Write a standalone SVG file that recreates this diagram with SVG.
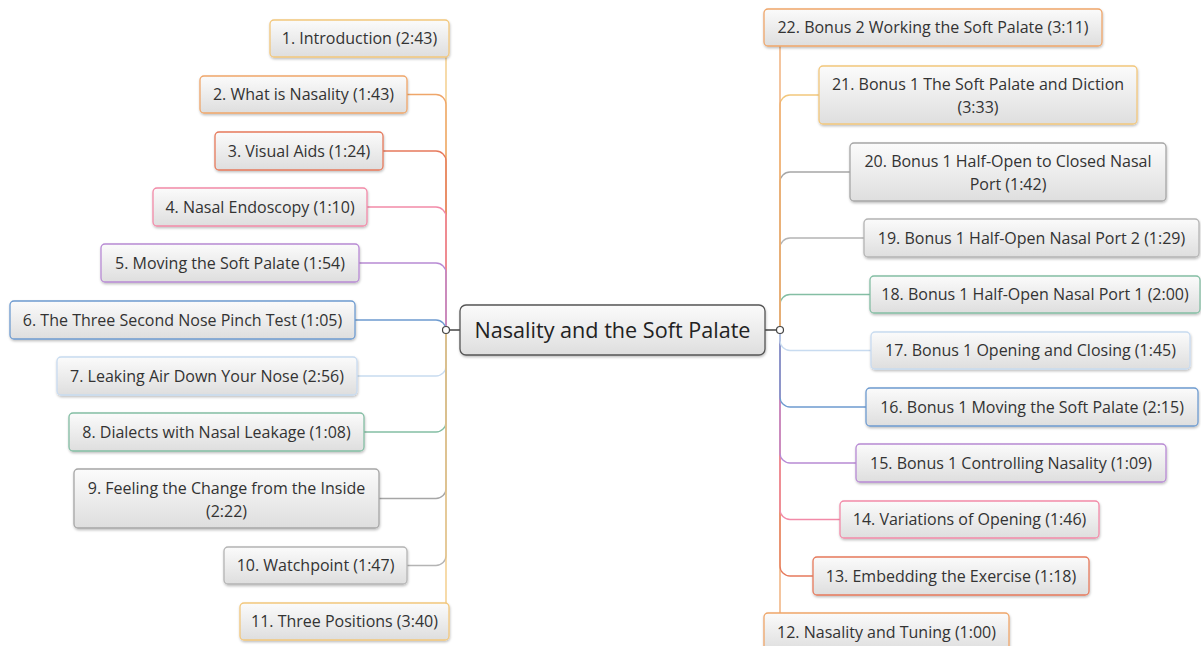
<svg xmlns="http://www.w3.org/2000/svg" width="1201" height="646" viewBox="0 0 1201 646">
<defs>
<linearGradient id="g" x1="0" y1="0" x2="0" y2="1"><stop offset="0" stop-color="#fbfbfb"/><stop offset="1" stop-color="#dedede"/></linearGradient>
<filter id="sh" x="-5%" y="-20%" width="110%" height="150%"><feDropShadow dx="0.5" dy="1.5" stdDeviation="1.2" flood-color="#000" flood-opacity="0.25"/></filter>
</defs>
<style>
.b{fill:url(#g);stroke-width:1.3;filter:url(#sh)}
.t{font-family:"Open Sans","Noto Sans",sans-serif;font-size:16px;fill:#333;text-anchor:middle}
.c{fill:none;stroke-width:1.3}
.c1{stroke:#f2c77c}.c2{stroke:#efa66a}.c3{stroke:#e67a5c}.c4{stroke:#f28aa8}.c5{stroke:#b88ad4}.c6{stroke:#6e9bd0}.c7{stroke:#c8dbf0}.c8{stroke:#84bea4}.c9{stroke:#a6a6a6}.c10{stroke:#b4b4b4}
</style>
<rect width="1201" height="646" fill="#fff"/>
<g id="connectors">
<path class="c c1" d="M446 57 V330"/>
<path class="c c2" d="M407 94.5 H436 A10 10 0 0 1 446 104.5 V330"/>
<path class="c c3" d="M383 151 H436 A10 10 0 0 1 446 161 V330"/>
<path class="c c4" d="M367 207 H436 A10 10 0 0 1 446 217 V330"/>
<path class="c c5" d="M359 263 H436 A10 10 0 0 1 446 273 V330"/>
<path class="c c6" d="M355 320 H436 A10 10 0 0 1 446 330"/>
<path class="c c7" d="M357 376 H436 A10 10 0 0 0 446 366 V330"/>
<path class="c c8" d="M364 432 H436 A10 10 0 0 0 446 422 V330"/>
<path class="c c9" d="M379 498.5 H436 A10 10 0 0 0 446 488.5 V330"/>
<path class="c c10" d="M407 565.5 H436 A10 10 0 0 0 446 555.5 V330"/>
<path class="c c1" d="M446 603 V330"/>
<path class="c c2" d="M780 330 V613"/>
<path class="c c3" d="M780 330 V566 A10 10 0 0 0 790 576 H813"/>
<path class="c c4" d="M780 330 V509.5 A10 10 0 0 0 790 519.5 H840"/>
<path class="c c5" d="M780 330 V453 A10 10 0 0 0 790 463 H856"/>
<path class="c c6" d="M780 330 V397 A10 10 0 0 0 790 407 H866"/>
<path class="c c7" d="M780 330 V340.5 A10 10 0 0 0 790 350.5 H871"/>
<path class="c c8" d="M780 330 V304.5 A10 10 0 0 1 790 294.5 H870"/>
<path class="c c10" d="M780 330 V248 A10 10 0 0 1 790 238 H864"/>
<path class="c c9" d="M780 330 V182 A10 10 0 0 1 790 172 H850"/>
<path class="c c1" d="M780 330 V105 A10 10 0 0 1 790 95 H819"/>
<path class="c c2" d="M780 330 V46"/>
<line x1="449.5" y1="330" x2="460" y2="330" stroke="#444" stroke-width="1.5"/>
<line x1="765" y1="330" x2="776.5" y2="330" stroke="#444" stroke-width="1.5"/>
<circle cx="446" cy="330" r="3.5" fill="#fff" stroke="#444" stroke-width="1.2"/>
<circle cx="780" cy="330" r="3.5" fill="#fff" stroke="#444" stroke-width="1.2"/>
</g>
<g id="center">
<rect class="b" x="460" y="305" width="305" height="50" rx="6" stroke="#555" stroke-width="1.5"/>
<text x="612.5" y="337.5" style="font-family:'Open Sans','Noto Sans',sans-serif;font-size:21.6px;fill:#222;text-anchor:middle">Nasality and the Soft Palate</text>
</g>
<g id="n1"><rect class="b c1" x="270" y="20" width="179" height="37" rx="4"/><text class="t" x="359.5" y="44">1. Introduction (2:43)</text></g>
<g id="n2"><rect class="b c2" x="200" y="76" width="207" height="37" rx="4"/><text class="t" x="303.5" y="100">2. What is Nasality (1:43)</text></g>
<g id="n3"><rect class="b c3" x="215" y="132" width="168" height="38" rx="4"/><text class="t" x="299" y="156.5">3. Visual Aids (1:24)</text></g>
<g id="n4"><rect class="b c4" x="153" y="188" width="214" height="38" rx="4"/><text class="t" x="260" y="212.5">4. Nasal Endoscopy (1:10)</text></g>
<g id="n5"><rect class="b c5" x="101" y="244" width="258" height="38" rx="4"/><text class="t" x="230" y="268.5">5. Moving the Soft Palate (1:54)</text></g>
<g id="n6"><rect class="b c6" x="10" y="301" width="345" height="38" rx="4"/><text class="t" x="182.5" y="325.5">6. The Three Second Nose Pinch Test (1:05)</text></g>
<g id="n7"><rect class="b c7" x="57" y="357" width="300" height="38" rx="4"/><text class="t" x="207" y="381.5">7. Leaking Air Down Your Nose (2:56)</text></g>
<g id="n8"><rect class="b c8" x="69" y="413" width="295" height="38" rx="4"/><text class="t" x="216.5" y="437.5">8. Dialects with Nasal Leakage (1:08)</text></g>
<g id="n9"><rect class="b c9" x="74" y="469" width="305" height="59" rx="4"/><text class="t" x="226.5" y="493.5">9. Feeling the Change from the Inside</text><text class="t" x="226.5" y="516.5">(2:22)</text></g>
<g id="n10"><rect class="b c10" x="224" y="547" width="183" height="37" rx="4"/><text class="t" x="315.5" y="571">10. Watchpoint (1:47)</text></g>
<g id="n11"><rect class="b c1" x="240" y="603" width="209" height="37" rx="4"/><text class="t" x="344.5" y="627">11. Three Positions (3:40)</text></g>
<g id="n22"><rect class="b c2" x="764" y="9" width="338" height="37" rx="4"/><text class="t" x="933" y="33">22. Bonus 2 Working the Soft Palate (3:11)</text></g>
<g id="n21"><rect class="b c1" x="819" y="66" width="318" height="58" rx="4"/><text class="t" x="978" y="90">21. Bonus 1 The Soft Palate and Diction</text><text class="t" x="978" y="113">(3:33)</text></g>
<g id="n20"><rect class="b c9" x="850" y="143" width="316" height="58" rx="4"/><text class="t" x="1008" y="167">20. Bonus 1 Half-Open to Closed Nasal</text><text class="t" x="1008" y="190">Port (1:42)</text></g>
<g id="n19"><rect class="b c10" x="864" y="219" width="335" height="38" rx="4"/><text class="t" x="1031.5" y="243.5">19. Bonus 1 Half-Open Nasal Port 2 (1:29)</text></g>
<g id="n18"><rect class="b c8" x="870" y="276" width="330" height="37" rx="4"/><text class="t" x="1035" y="300">18. Bonus 1 Half-Open Nasal Port 1 (2:00)</text></g>
<g id="n17"><rect class="b c7" x="871" y="332" width="319" height="37" rx="4"/><text class="t" x="1030.5" y="356">17. Bonus 1 Opening and Closing (1:45)</text></g>
<g id="n16"><rect class="b c6" x="866" y="388" width="332" height="38" rx="4"/><text class="t" x="1032" y="412.5">16. Bonus 1 Moving the Soft Palate (2:15)</text></g>
<g id="n15"><rect class="b c5" x="856" y="444" width="310" height="38" rx="4"/><text class="t" x="1011" y="468.5">15. Bonus 1 Controlling Nasality (1:09)</text></g>
<g id="n14"><rect class="b c4" x="840" y="501" width="259" height="37" rx="4"/><text class="t" x="969.5" y="525">14. Variations of Opening (1:46)</text></g>
<g id="n13"><rect class="b c3" x="813" y="557" width="276" height="38" rx="4"/><text class="t" x="951" y="581.5">13. Embedding the Exercise (1:18)</text></g>
<g id="n12"><rect class="b c2" x="764" y="613" width="245" height="38" rx="4"/><text class="t" x="886.5" y="637.5">12. Nasality and Tuning (1:00)</text></g>
</svg>
